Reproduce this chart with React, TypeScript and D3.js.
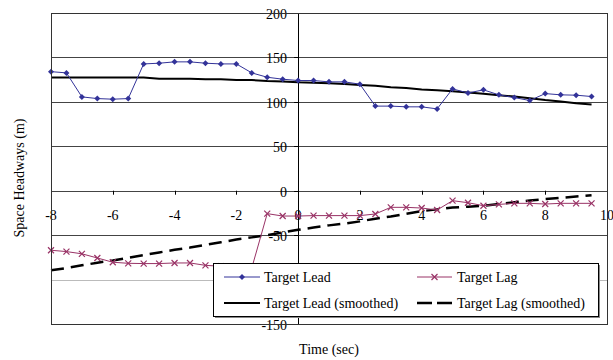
import * as d3 from "d3";

// time in seconds, every half second
const times = d3.range(-8, 10, 0.5);

const targetLead = [
  134, 132.6, 105.6, 103.7, 103, 103.7, 142.7, 143.5, 145, 145, 143.5, 142.7,
  142.7, 132.6, 127.7, 125.5, 124, 124, 122.5, 122.5, 119.9, 95.2, 95.2, 94.4,
  94.4, 92.1, 114.6, 110, 113.5, 107.9, 104.8, 101.5, 109.3, 107.9, 107.5, 106,
];

const targetLag = [
  -67, -68.5, -71, -75.7, -80.5, -81.7, -82, -82, -81.3, -81.3, -84, -85, -86,
  -87, -25.8, -28.5, -28.5, -28, -28, -28, -28, -26.2, -18.7, -18.7, -19.5,
  -21.7, -11.2, -13.5, -16.9, -15.4, -14.2, -14.2, -15, -14.2, -14.2, -14.2,
];

const leadSmoothed = [
  127.5, 127.5, 127.5, 127.5, 127.5, 127.5, 127.5, 126, 126, 126, 125.5, 125.5,
  124.5, 124.5, 123.5, 123, 122, 121.5, 121, 120, 119, 118, 116.5, 115.5, 114,
  113, 112, 110.5, 109, 107.5, 106, 104, 102, 100.5, 98.5, 97,
];

const lagSmoothed = [
  -89.5, -87, -84, -81, -78.5, -75.5, -72.5, -69.5, -66.5, -64, -61, -58, -55,
  -52.5, -50, -47, -44, -41.5, -39, -37, -34.5, -31.5, -29, -26, -23, -21, -19,
  -18, -17, -15, -13, -11, -9.5, -8, -6.5, -5,
];

const xTicks = [-8, -6, -4, -2, 0, 2, 4, 6, 8, 10];
const yTicks = [200, 150, 100, 50, 0, -50, -100, -150];

const W = 613;
const H = 360;
const FONT = "'Liberation Serif', 'Times New Roman', serif";
const LEAD_COLOR = "#333399";
const LAG_COLOR = "#993366";

export default function App() {
  const x = d3.scaleLinear().domain([-8, 10]).range([51, 607]);
  const y = d3.scaleLinear().domain([-150, 200]).range([324, 13]);

  const line = d3
    .line<number>()
    .x((_, i) => x(times[i]))
    .y((d) => y(d));

  const diamond = (cx: number, cy: number) =>
    `M${cx},${cy - 3}L${cx + 3},${cy}L${cx},${cy + 3}L${cx - 3},${cy}Z`;
  const cross = (cx: number, cy: number) =>
    `M${cx - 3},${cy - 3}L${cx + 3},${cy + 3}M${cx - 3},${cy + 3}L${cx + 3},${cy - 3}`;

  // legend layout
  const lg = { x: 213, y: 263, w: 385, h: 53 };
  const row1 = 277;
  const row2 = 303;

  return (
    <svg
      width={W}
      height={H}
      style={{ position: "absolute", left: 0, top: 0, background: "#fff" }}
      fontFamily={FONT}
      fontSize={14}
    >
      <rect width={W} height={H} fill="#fff" />

      {/* horizontal gridlines */}
      {yTicks.slice(1, -1).map((t) => (
        <line
          key={t}
          x1={x(-8)}
          x2={x(10)}
          y1={Math.round(y(t)) + 0.5}
          y2={Math.round(y(t)) + 0.5}
          stroke={t === -100 ? "#bbb" : "#444"}
          strokeWidth={1}
        />
      ))}

      {/* x axis ticks and labels at y=0 */}
      {xTicks.map((t) => (
        <g key={t}>
          <line
            x1={Math.round(x(t)) + 0.5}
            x2={Math.round(x(t)) + 0.5}
            y1={y(0)}
            y2={y(0) + 4}
            stroke="#000"
          />
          <text x={x(t)} y={y(0) + 29} textAnchor="middle" fill="#000">
            {t}
          </text>
        </g>
      ))}

      {/* y axis at x=0 */}
      <line
        x1={Math.round(x(0)) + 0.5}
        x2={Math.round(x(0)) + 0.5}
        y1={y(200)}
        y2={y(-150)}
        stroke="#000"
      />
      {yTicks.map((t) => (
        <g key={t}>
          <line
            x1={x(0) - 4}
            x2={x(0)}
            y1={Math.round(y(t)) + 0.5}
            y2={Math.round(y(t)) + 0.5}
            stroke="#000"
          />
          {/* the -100 label sits behind the legend */}
          {t !== -100 && (
            <text x={x(0) - 11} y={y(t) + 6} textAnchor="end" fill="#000">
              {t}
            </text>
          )}
        </g>
      ))}

      {/* smoothed series */}
      <path d={line(leadSmoothed) ?? ""} fill="none" stroke="#000" strokeWidth={2} />
      <path
        d={line(lagSmoothed) ?? ""}
        fill="none"
        stroke="#000"
        strokeWidth={2.5}
        strokeDasharray="13,7"
      />

      {/* target lead */}
      <path d={line(targetLead) ?? ""} fill="none" stroke={LEAD_COLOR} strokeWidth={1} />
      {targetLead.map((v, i) => (
        <path key={i} d={diamond(x(times[i]), y(v))} fill={LEAD_COLOR} />
      ))}

      {/* target lag */}
      <path d={line(targetLag) ?? ""} fill="none" stroke={LAG_COLOR} strokeWidth={1} />
      {targetLag.map((v, i) => (
        <path key={i} d={cross(x(times[i]), y(v))} stroke={LAG_COLOR} strokeWidth={1.2} fill="none" />
      ))}

      {/* plot border */}
      <rect
        x={x(-8) + 0.5}
        y={y(200) + 0.5}
        width={x(10) - x(-8)}
        height={y(-150) - y(200)}
        fill="none"
        stroke="#333"
        strokeWidth={1}
      />

      {/* legend */}
      <rect x={lg.x + 2} y={lg.y + 2} width={lg.w} height={lg.h} fill="#888" />
      <rect x={lg.x + 0.5} y={lg.y + 0.5} width={lg.w} height={lg.h} fill="#fff" stroke="#000" />
      <line x1={224} x2={260} y1={row1} y2={row1} stroke={LEAD_COLOR} />
      <path d={diamond(242, row1)} fill={LEAD_COLOR} />
      <text x={264} y={row1 + 5}>Target Lead</text>
      <line x1={417} x2={452} y1={row1} y2={row1} stroke={LAG_COLOR} />
      <path d={cross(434.5, row1)} stroke={LAG_COLOR} strokeWidth={1.2} />
      <text x={457} y={row1 + 5}>Target Lag</text>
      <line x1={224} x2={260} y1={row2} y2={row2} stroke="#000" strokeWidth={2} />
      <text x={264} y={row2 + 5}>Target Lead (smoothed)</text>
      <line
        x1={417}
        x2={452}
        y1={row2}
        y2={row2}
        stroke="#000"
        strokeWidth={2.5}
        strokeDasharray="15,5"
      />
      <text x={457} y={row2 + 5}>Target Lag (smoothed)</text>

      {/* axis titles */}
      <text x={329} y={354} textAnchor="middle">
        Time (sec)
      </text>
      <text transform="translate(24,178) rotate(-90)" textAnchor="middle">
        Space Headways (m)
      </text>
    </svg>
  );
}
